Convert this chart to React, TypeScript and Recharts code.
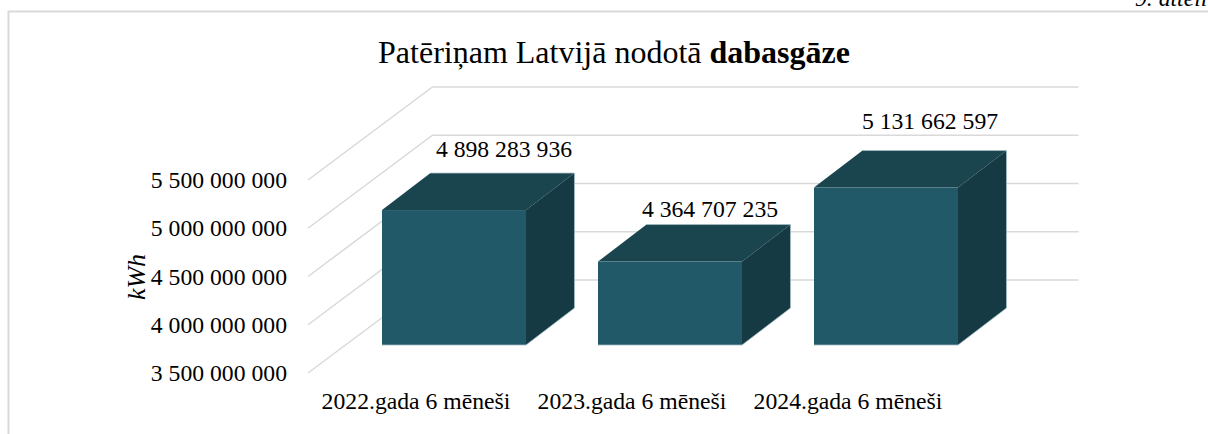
import React from 'react';
import {BarChart, Bar, XAxis, YAxis, CartesianGrid, LabelList} from 'recharts';

const categories = ['2022.gada 6 mēneši', '2023.gada 6 mēneši', '2024.gada 6 mēneši'];
const gasValues = [4898283936, 4364707235, 5131662597];
const yTicks = [3500000000, 4000000000, 4500000000, 5000000000, 5500000000];

const data = categories.map((name, i) => ({name, value: gasValues[i]}));

const WIDTH = 1208;
const HEIGHT = 434;
const FONT = '"Liberation Serif", "Times New Roman", serif';
const FONT_SIZE = 23.7;

const GRID_COLOR = '#d9d9d9';
const FRONT_COLOR = '#215968';
const TOP_COLOR = '#1a454f';
const SIDE_COLOR = '#153a44';
const EDGE_COLOR = '#a3bbc3';

// 3d look: depth of the bars and of the floor, in px
const BAR_DX = 48.5;
const BAR_DY = -37;
const WALL_FRONT_X = 308;
const WALL_BACK_X = 432.5;
const WALL_RIGHT_X = 1078.5;

// data labels sit a bit differently over each box
const labelNudge = [{dx: 50, dy: -61}, {dx: 40, dy: -53}, {dx: 44, dy: -67}];

const formatNumber = (v: number) => String(v).replace(/\B(?=(\d{3})+$)/g, ' ');

const Box3d = ({x, y, width, height}: any) => {
    const right = x + width;
    const bottom = y + height;
    return (
        <g>
            <polygon points={`${x},${y} ${x + BAR_DX},${y + BAR_DY} ${right + BAR_DX},${y + BAR_DY} ${right},${y}`} fill={TOP_COLOR}/>
            <polygon points={`${right},${y} ${right + BAR_DX},${y + BAR_DY} ${right + BAR_DX},${bottom + BAR_DY} ${right},${bottom}`} fill={SIDE_COLOR}/>
            <rect x={x} y={y} width={width} height={height} fill={FRONT_COLOR}/>
            <polyline
                points={`${x},${bottom} ${right},${bottom} ${right + BAR_DX},${bottom + BAR_DY} ${right + BAR_DX},${y + BAR_DY} ${x + BAR_DX},${y + BAR_DY}`}
                fill="none"
                stroke={EDGE_COLOR}
                strokeWidth={0.8}
            />
        </g>
    );
};

const WallLine = ({y1}: any) => (
    <polyline
        points={`${WALL_FRONT_X},${y1 + 28} ${WALL_BACK_X},${y1 - 65} ${WALL_RIGHT_X},${y1 - 65}`}
        fill="none"
        stroke={GRID_COLOR}
        strokeWidth={1.5}
    />
);

const YTick = ({y, payload}: any) => (
    <text x={287} y={y + 28} dy={8} textAnchor="end" fontFamily={FONT} fontSize={FONT_SIZE} fill="#000">
        {formatNumber(payload.value)}
    </text>
);

const XTick = ({x, y, payload}: any) => (
    <text x={x - 38} y={y + 48} dy={8} textAnchor="middle" fontFamily={FONT} fontSize={FONT_SIZE} fill="#000">
        {payload.value}
    </text>
);

const ValueLabel = ({x, y, width, value, index}: any) => (
    <text
        x={x + width / 2 + labelNudge[index].dx}
        y={y + labelNudge[index].dy}
        dy={8}
        textAnchor="middle"
        fontFamily={FONT}
        fontSize={FONT_SIZE}
        fill="#000"
    >
        {formatNumber(value)}
    </text>
);

const App = () => (
    <div style={{position: 'absolute', left: 0, top: 0, width: WIDTH, height: HEIGHT, overflow: 'hidden', background: '#fff'}}>
        <BarChart
            width={WIDTH}
            height={HEIGHT}
            data={data}
            barSize={144}
            margin={{top: 152, right: 214, bottom: 59, left: 286}}
        >
            <polyline points={`8.5,434 8.5,11.5 ${WIDTH},11.5`} fill="none" stroke={GRID_COLOR} strokeWidth={2}/>
            <text x={1135} y={6} fontFamily={FONT} fontStyle="italic" fontSize={FONT_SIZE} fill="#000">9. attēli</text>
            <text x={614} y={63} textAnchor="middle" fontFamily={FONT} fontSize={32} fill="#000">
                Patēriņam Latvijā nodotā <tspan fontWeight="bold">dabasgāze</tspan>
            </text>
            <text
                transform="translate(145,277) rotate(-90)"
                textAnchor="middle"
                fontFamily={FONT}
                fontStyle="italic"
                fontSize={26}
                fill="#000"
            >kWh</text>
            <CartesianGrid vertical={false} horizontal={(props: any) => <WallLine key={props.index} {...props}/>}/>
            <XAxis dataKey="name" axisLine={false} tickLine={false} tick={XTick} interval={0}/>
            <YAxis
                width={60}
                domain={[3500000000, 5500000000]}
                ticks={yTicks}
                axisLine={false}
                tickLine={false}
                tick={YTick}
            />
            <Bar dataKey="value" shape={Box3d} isAnimationActive={false}>
                <LabelList dataKey="value" content={ValueLabel}/>
            </Bar>
        </BarChart>
    </div>
);

export default App;
